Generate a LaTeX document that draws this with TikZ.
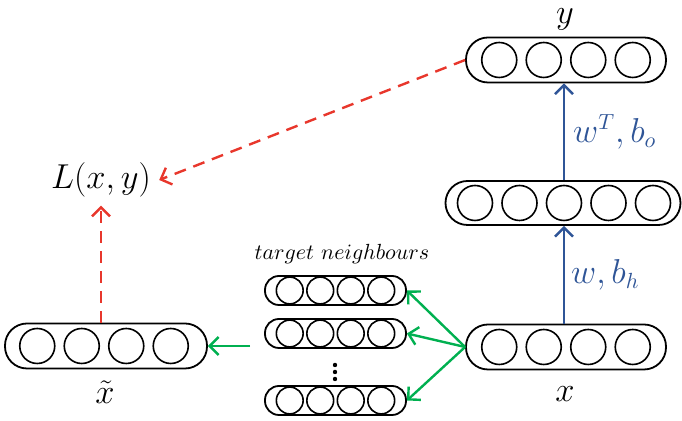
\documentclass[tikz,border=0pt]{standalone}
\usetikzlibrary{arrows.meta}
\definecolor{lossred}{HTML}{E8372C}
\definecolor{encblue}{HTML}{2F5597}
\definecolor{nbgreen}{HTML}{00B050}
\begin{document}
\begin{tikzpicture}[x=0.5pt,y=-0.5pt,
  bigpill/.style={draw,line width=0.9pt,rounded corners=11pt,inner sep=0pt,
                  minimum width=100pt,minimum height=22.5pt},
  smallpill/.style={draw,line width=0.9pt,rounded corners=7pt,inner sep=0pt,
                  minimum width=70.5pt,minimum height=14.5pt},
  bigunit/.style={draw,circle,line width=0.8pt,inner sep=0pt,minimum size=17.5pt},
  smallunit/.style={draw,circle,line width=0.8pt,inner sep=0pt,minimum size=13.4pt},
  lbl/.style={inner sep=1pt,font=\fontsize{16}{19}\selectfont},
  tip/.style={-{Straight Barb[length=4.5pt,width=9pt]}},
  enc/.style={encblue,line width=1.2pt,tip},
  loss/.style={lossred,line width=1.2pt,dash pattern=on 6pt off 4pt,tip},
  nb/.style={nbgreen,line width=1.2pt,tip},
  dot/.style={circle,fill=black,inner sep=0pt,minimum size=2.2pt}]
\useasboundingbox (0,0) rectangle (682,421);

% output layer y
\node[bigpill] (ybox) at (566,60) {};
\foreach \i/\d in {1/-1.5,2/-0.5,3/0.5,4/1.5}
  \node[bigunit] (y\i) at (566+\d*44.5,60) {};
\node[lbl] (ylab) at (565,19) {$y$};

% hidden layer
\node[bigpill,minimum width=117.5pt,minimum height=22pt] (hbox) at (563,203) {};
\foreach \i/\d in {1/-2,2/-1,3/0,4/1,5/2}
  \node[bigunit] (h\i) at (564+\d*44.5,203) {};

% input layer x
\node[bigpill] (xbox) at (566,347) {};
\foreach \i/\d in {1/-1.5,2/-0.5,3/0.5,4/1.5}
  \node[bigunit] (x\i) at (566+\d*44.5,347) {};
\node[lbl] (xlab) at (565,394) {$x$};

% reconstruction x tilde
\node[bigpill,minimum width=101pt] (xtbox) at (106,346) {};
\foreach \i/\d in {1/-1.5,2/-0.5,3/0.5,4/1.5}
  \node[bigunit] (xt\i) at (104+\d*44.5,346) {};
\node[lbl] (xtlab) at (105,392) {$\tilde{x}$};

% loss
\node[inner sep=1pt,font=\fontsize{17}{20}\selectfont] (loss) at (101,180) {$L(x,y)$};

% target neighbours
\node[inner sep=1pt,font=\fontsize{11}{13}\selectfont] (nblab) at (342,254) {$target\ neighbours$};
\foreach \n/\yy in {1/290.5,2/333.5,3/400.5}{
  \node[smallpill] (nb\n) at (335.5,\yy) {};
  \foreach \i/\d in {1/-1.5,2/-0.5,3/0.5,4/1.5}
    \node[smallunit] (nb\n u\i) at (335.5+\d*30.5,\yy) {};
}
% vertical ellipsis between the neighbour rows
\foreach \k/\yy in {1/365,2/372,3/379}
  \node[dot] (dot\k) at (335,\yy) {};

% encoder / decoder weights
\draw[enc] (xbox.north -| h3) -- (hbox.south -| h3)
  node[midway,right=2pt,lbl,text=encblue] (wlab) {$w,b_h$};
\draw[enc] (hbox.north -| h3) -- (ybox.south -| h3)
  node[midway,right=3pt,lbl,text=encblue] (wtlab) {$w^T,b_o$};

% loss connections
\draw[loss] (ybox.west) -- ([xshift=3pt]loss.east);
\draw[loss] (xtbox.north -| loss) -- ([yshift=-3pt]loss.south);

% neighbour connections
\draw[nb] (xbox.west) -- (nb1.east);
\draw[nb] (xbox.west) -- (nb2.east);
\draw[nb] (xbox.west) -- (nb3.east);
\coordinate (gin) at (250,346);
\draw[nb] (gin) -- (xtbox.east);
\end{tikzpicture}
\end{document}
